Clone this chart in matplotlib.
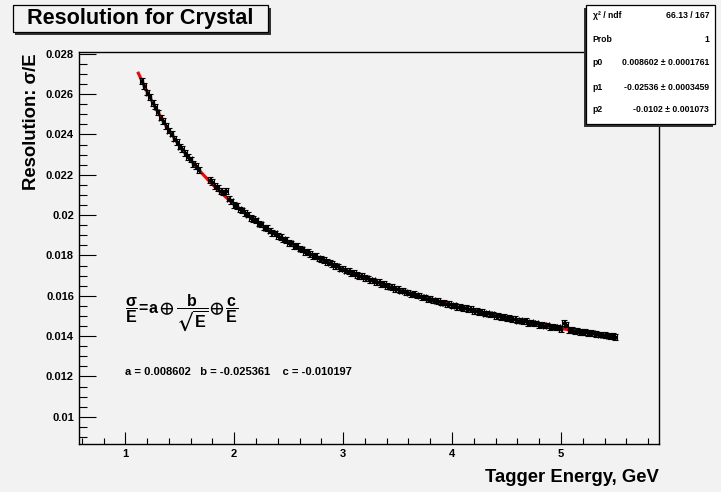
import matplotlib
matplotlib.use('Agg')
import matplotlib.pyplot as plt
from matplotlib.patches import Rectangle
from matplotlib.ticker import MultipleLocator, FuncFormatter
import numpy as np

plt.rcParams['font.family'] = ['Liberation Sans', 'DejaVu Sans']
plt.rcParams['font.weight'] = 'bold'
plt.rcParams['mathtext.fontset'] = 'custom'
plt.rcParams['mathtext.rm'] = 'Liberation Sans:bold'
plt.rcParams['mathtext.it'] = 'Liberation Sans:bold'
plt.rcParams['mathtext.bf'] = 'Liberation Sans:bold'
plt.rcParams['mathtext.fallback'] = 'stixsans'

energia_1 = [1.150, 1.175, 1.200, 1.225, 1.250, 1.275, 1.300, 1.325, 1.350, 1.375,
             1.400, 1.425, 1.450, 1.475, 1.500, 1.525, 1.550, 1.575, 1.600, 1.625,
             1.650, 1.675]
resol_1 = [0.02665, 0.02641, 0.02608, 0.02586, 0.02557, 0.02538, 0.02509, 0.02484,
           0.02467, 0.02443, 0.02419, 0.02404, 0.02380, 0.02363, 0.02340, 0.02327,
           0.02307, 0.02288, 0.02276, 0.02255, 0.02243, 0.02225]

energia_2 = [1.775, 1.800, 1.825, 1.850, 1.875, 1.900, 1.925, 1.950, 1.975, 2.000,
             2.025, 2.050, 2.075, 2.100, 2.125, 2.150, 2.175, 2.200, 2.225, 2.250,
             2.275, 2.300, 2.325, 2.350, 2.375, 2.400, 2.425, 2.450, 2.475, 2.500,
             2.525, 2.550, 2.575, 2.600, 2.625, 2.650, 2.675, 2.700, 2.725, 2.750,
             2.775, 2.800, 2.825, 2.850, 2.875, 2.900, 2.925, 2.950, 2.975, 3.000,
             3.025, 3.050, 3.075, 3.100, 3.125, 3.150, 3.175, 3.200, 3.225, 3.250,
             3.275, 3.300, 3.325, 3.350, 3.375, 3.400, 3.425, 3.450, 3.475, 3.500,
             3.525, 3.550, 3.575, 3.600, 3.625, 3.650, 3.675, 3.700, 3.725, 3.750,
             3.775, 3.800, 3.825, 3.850, 3.875, 3.900, 3.925, 3.950, 3.975, 4.000,
             4.025, 4.050, 4.075, 4.100, 4.125, 4.150, 4.175, 4.200, 4.225, 4.250,
             4.275, 4.300, 4.325, 4.350, 4.375, 4.400, 4.425, 4.450, 4.475, 4.500,
             4.525, 4.550, 4.575, 4.600, 4.625, 4.650, 4.675, 4.700, 4.725, 4.750,
             4.775, 4.800, 4.825, 4.850, 4.875, 4.900, 4.925, 4.950, 4.975, 5.000,
             5.025, 5.050, 5.075, 5.100, 5.125, 5.150, 5.175, 5.200, 5.225, 5.250,
             5.275, 5.300, 5.325, 5.350, 5.375, 5.400, 5.425, 5.450, 5.475, 5.500]
resol_2 = [0.02175, 0.02163, 0.02144, 0.02136, 0.02120, 0.02113, 0.02121, 0.02082, 0.02068, 0.02051,
           0.02046, 0.02028, 0.02023, 0.02009, 0.02003, 0.01986, 0.01982, 0.01974, 0.01958, 0.01954,
           0.01938, 0.01936, 0.01923, 0.01911, 0.01909, 0.01895, 0.01893, 0.01880, 0.01876, 0.01862,
           0.01860, 0.01848, 0.01848, 0.01834, 0.01830, 0.01818, 0.01818, 0.01807, 0.01797, 0.01797,
           0.01785, 0.01782, 0.01779, 0.01767, 0.01765, 0.01759, 0.01748, 0.01746, 0.01735, 0.01735,
           0.01725, 0.01723, 0.01712, 0.01713, 0.01704, 0.01697, 0.01697, 0.01688, 0.01686, 0.01676,
           0.01676, 0.01668, 0.01667, 0.01657, 0.01657, 0.01647, 0.01646, 0.01644, 0.01634, 0.01634,
           0.01626, 0.01626, 0.01617, 0.01616, 0.01607, 0.01608, 0.01602, 0.01601, 0.01592, 0.01592,
           0.01585, 0.01586, 0.01577, 0.01576, 0.01574, 0.01566, 0.01566, 0.01560, 0.01560, 0.01551,
           0.01552, 0.01546, 0.01546, 0.01538, 0.01538, 0.01533, 0.01533, 0.01525, 0.01525, 0.01519,
           0.01520, 0.01512, 0.01513, 0.01508, 0.01508, 0.01500, 0.01501, 0.01495, 0.01496, 0.01488,
           0.01489, 0.01485, 0.01485, 0.01477, 0.01478, 0.01473, 0.01474, 0.01466, 0.01468, 0.01463,
           0.01463, 0.01456, 0.01457, 0.01452, 0.01453, 0.01446, 0.01447, 0.01443, 0.01443, 0.01435,
           0.01466, 0.01457, 0.01429, 0.01431, 0.01426, 0.01427, 0.01422, 0.01422, 0.01420, 0.01415,
           0.01416, 0.01413, 0.01412, 0.01408, 0.01408, 0.01404, 0.01403, 0.01400, 0.01399, 0.01396]

energia = energia_1 + energia_2
resolucion = resol_1 + resol_2
err_x = 0.014
err_y = 0.00014

# fit parameters from the stats box
p0 = 0.008602
p1 = -0.02536
p2 = -0.0102
fit_rango = (1.12, 5.5)

fondo = '#f2f2f2'
W, H = 721, 492


def px(x, y):
    return x / W, 1 - y / H


fig = plt.figure(figsize=(W / 100, H / 100), dpi=100, facecolor=fondo)
ax = fig.add_axes([79 / W, 1 - 444 / H, (659 - 79) / W, (444 - 52) / H], facecolor=fondo)

ax.errorbar(energia, resolucion, xerr=err_x, yerr=err_y, fmt='s', ms=1.8,
            color='k', ecolor='k', elinewidth=0.8, capsize=2, capthick=0.8,
            zorder=3)
e_fit = np.linspace(fit_rango[0], fit_rango[1], 300)
ax.plot(e_fit, np.sqrt(p0 ** 2 + p1 ** 2 / e_fit + p2 ** 2 / e_fit ** 2),
        color='red', lw=2.2, zorder=2)

ax.set_xlim(0.575, 5.9)
ax.set_ylim(0.00865, 0.02809)
ax.xaxis.set_major_locator(MultipleLocator(1))
ax.xaxis.set_minor_locator(MultipleLocator(0.2))
ax.yaxis.set_major_locator(MultipleLocator(0.002))
ax.yaxis.set_minor_locator(MultipleLocator(0.0005))
ax.xaxis.set_major_formatter(FuncFormatter(lambda v, p: '%g' % round(v, 4)))
ax.yaxis.set_major_formatter(FuncFormatter(lambda v, p: '%g' % round(v, 4)))
ax.tick_params(which='both', direction='in', top=False, right=False,
               labelsize=8, width=0.8)
ax.tick_params(axis='y', which='major', length=12.2, pad=3.6)
ax.tick_params(axis='y', which='minor', length=5.8)
ax.tick_params(axis='x', which='major', length=8.6, pad=3.5)
ax.tick_params(axis='x', which='minor', length=4)
for s in ax.spines.values():
    s.set_linewidth(1.0)

# axis titles
fig.text(*px(31, 53), 'Resolution: σ/E', rotation=90, ha='center', va='top',
         fontsize=13.3, fontweight='bold')
fig.text(*px(659, 477), 'Tagger Energy, GeV', ha='right', va='center',
         fontsize=13.3, fontweight='bold')

# formula and fitted values
fig.text(*px(125, 313),
         r'$\dfrac{\sigma}{E}\!=\!a \oplus \dfrac{b}{\sqrt{E}}\!\oplus \dfrac{c}{E}$',
         ha='left', va='center', fontsize=11.5)
fig.text(*px(125, 372), 'a = 0.008602   b = -0.025361    c = -0.010197',
         ha='left', va='center', fontsize=8, fontweight='bold')

# title box
x0, y0 = px(13, 32)
x1, y1 = px(268, 5)
sx, sy = 2.5 / W, 2.5 / H
fig.add_artist(Rectangle((x0 + sx, y0 - sy), x1 - x0, y1 - y0, transform=fig.transFigure,
                         facecolor='#333333', edgecolor='none', zorder=5))
fig.add_artist(Rectangle((x0, y0), x1 - x0, y1 - y0, transform=fig.transFigure,
                         facecolor=fondo, edgecolor='k', lw=0.9, zorder=6))
fig.text(*px(140.5, 18.5), 'Resolution for Crystal', ha='center', va='center',
         fontsize=15.6, fontweight='bold', zorder=7)

# stats box
x0, y0 = px(586, 124)
x1, y1 = px(715, 5)
fig.add_artist(Rectangle((x0 - sx, y0 - sy), x1 - x0, y1 - y0, transform=fig.transFigure,
                         facecolor='#333333', edgecolor='none', zorder=5))
fig.add_artist(Rectangle((x0, y0), x1 - x0, y1 - y0, transform=fig.transFigure,
                         facecolor='white', edgecolor='k', lw=0.9, zorder=6))
stats_nombres = ['χ² / ndf', 'Prob', 'p0', 'p1', 'p2']
stats_valores = ['66.13 / 167', '1', '0.008602 ± 0.0001761',
                 '-0.02536 ± 0.0003459', '-0.0102 ± 0.001073']
stats_y = [15, 39.3, 62.7, 87.3, 110]
for nombre, valor, yy in zip(stats_nombres, stats_valores, stats_y):
    fig.text(*px(592.7, yy), nombre, ha='left', va='center', fontsize=6.2,
             fontweight='bold', zorder=7)
    fig.text(*px(709, yy), valor, ha='right', va='center', fontsize=6.2,
             fontweight='bold', zorder=7)

fig.savefig('out.png', dpi=100, facecolor=fondo)
